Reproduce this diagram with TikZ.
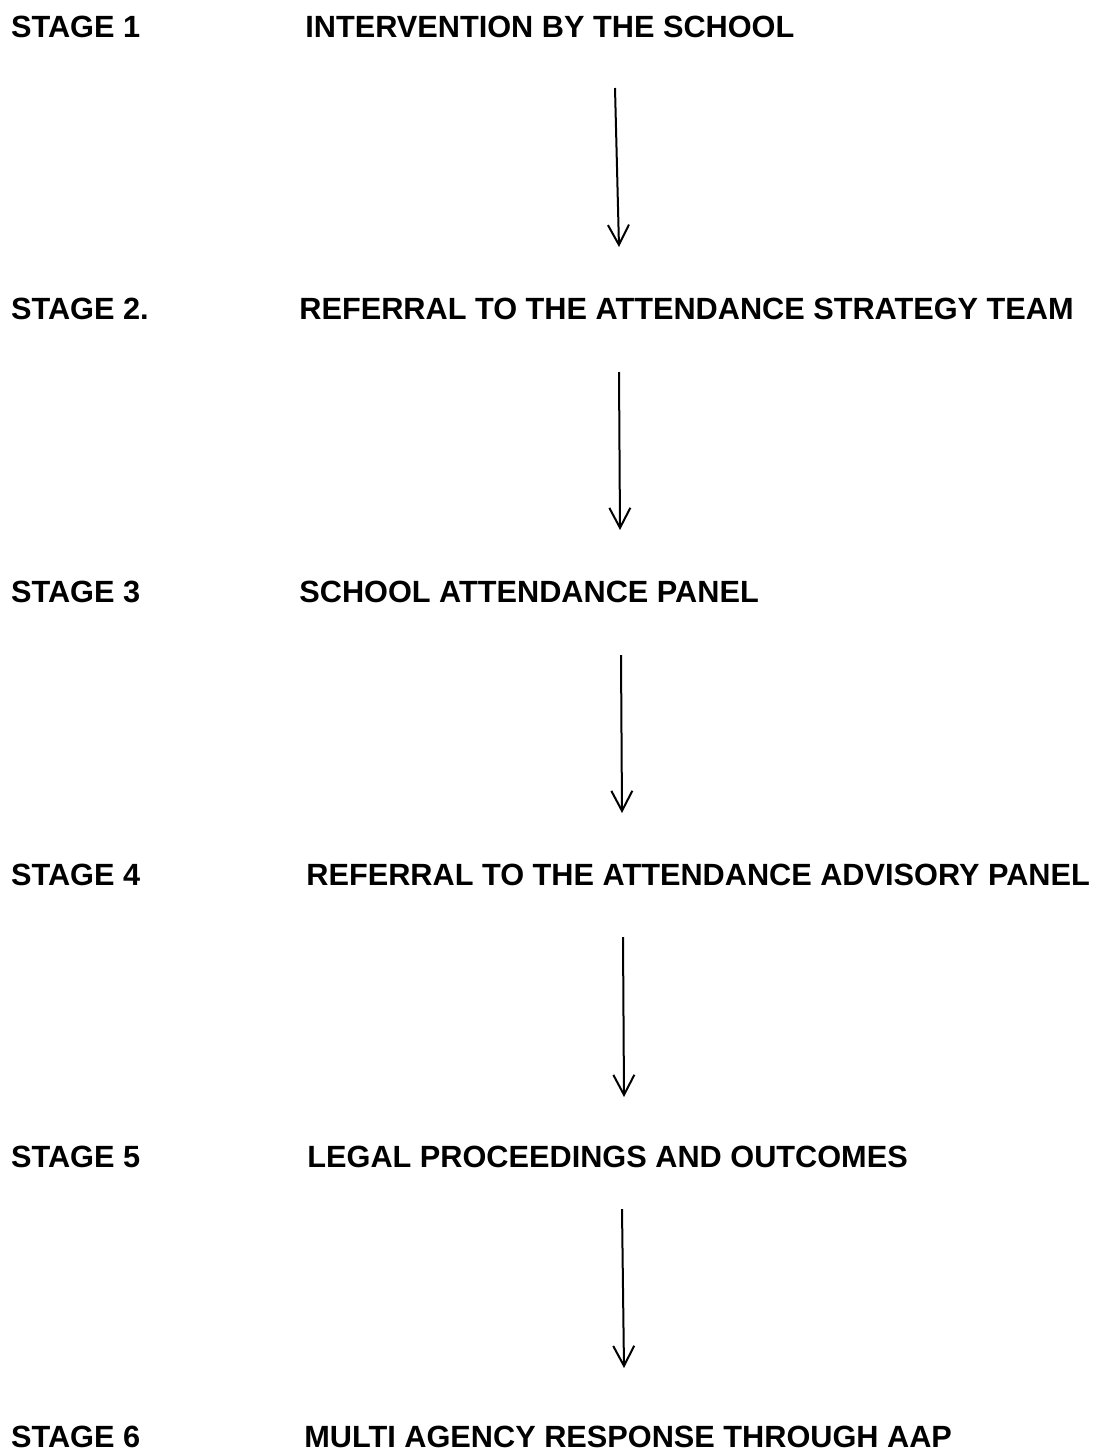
\documentclass[tikz,border=0pt]{standalone}
\usepackage{fontspec}
\setmainfont{Liberation Sans}
\usetikzlibrary{arrows.meta}
\begin{document}
\begin{tikzpicture}[x=0.5pt, y=-0.5pt,
  stage/.style={anchor=base west, inner sep=0pt, font=\fontsize{15.35}{18}\selectfont\bfseries},
  flow/.style={line width=1pt, -{Straight Barb[length=10pt, width=10.5pt]}}]
\useasboundingbox (0,0) rectangle (1098,1451);
\node[stage] (s1) at (10.7, 37) {STAGE 1};
\node[stage] (t1) at (305, 37) {INTERVENTION BY THE SCHOOL};
\node[stage] (s2) at (10.7, 319) {STAGE 2.};
\node[stage] (t2) at (299, 319) {REFERRAL TO THE ATTENDANCE STRATEGY TEAM};
\node[stage] (s3) at (10.7, 602) {STAGE 3};
\node[stage] (t3) at (299, 602) {SCHOOL ATTENDANCE PANEL};
\node[stage] (s4) at (10.7, 885) {STAGE 4};
\node[stage] (t4) at (306, 885) {REFERRAL TO THE ATTENDANCE ADVISORY PANEL};
\node[stage] (s5) at (10.7, 1167) {STAGE 5};
\node[stage] (t5) at (307, 1167) {LEGAL PROCEEDINGS AND OUTCOMES};
\node[stage] (s6) at (10.7, 1447) {STAGE 6};
\node[stage] (t6) at (304, 1447) {MULTI AGENCY RESPONSE THROUGH AAP};
% arrows between the stages
\coordinate (a1) at (615, 88);
\coordinate (b1) at (619, 247);
\draw[flow] (a1) -- (b1);
\coordinate (a2) at (619, 372);
\coordinate (b2) at (620, 530);
\draw[flow] (a2) -- (b2);
\coordinate (a3) at (621, 655);
\coordinate (b3) at (622, 813);
\draw[flow] (a3) -- (b3);
\coordinate (a4) at (623, 937);
\coordinate (b4) at (624, 1097);
\draw[flow] (a4) -- (b4);
\coordinate (a5) at (622, 1209);
\coordinate (b5) at (624, 1368);
\draw[flow] (a5) -- (b5);
\end{tikzpicture}
\end{document}
